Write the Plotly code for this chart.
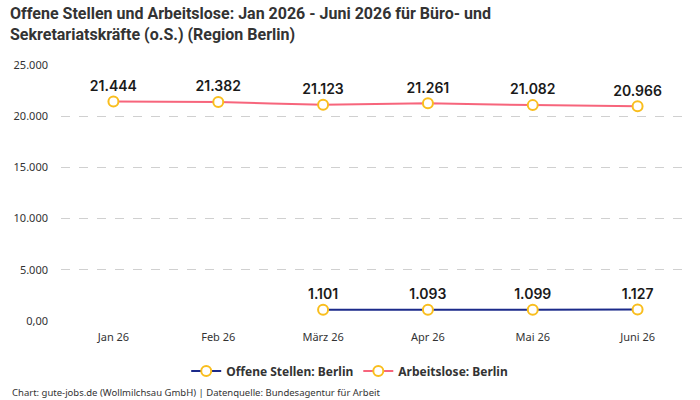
import plotly.graph_objects as go

months = ["Jan 26", "Feb 26", "März 26", "Apr 26", "Mai 26", "Juni 26"]
offene = [None, None, 1101, 1093, 1099, 1127]
arbeitslose = [21444, 21382, 21123, 21261, 21082, 20966]
tick_vals = [0, 5000, 10000, 15000, 20000, 25000]
tick_text = ["0,00", "5.000", "10.000", "15.000", "20.000", "25.000"]

def fmt(v):
    return "" if v is None else f"{v:,}".replace(",", ".")

marker = dict(size=10, color="white", line=dict(color="#F9BE1E", width=2))
label_font = dict(family="Inter", size=14, color="#1a1a1a", weight=600)
fig = go.Figure()
fig.add_trace(go.Scatter(
    x=months, y=offene, name="<b>Offene Stellen: Berlin</b>", mode="lines+markers+text",
    line=dict(color="#1B2A8A", width=2, shape="spline", smoothing=0.4), marker=marker,
    text=[fmt(v) for v in offene], textposition="top center",
    textfont=label_font, connectgaps=False,
))
fig.add_trace(go.Scatter(
    x=months, y=arbeitslose, name="<b>Arbeitslose: Berlin</b>", mode="lines+markers+text",
    line=dict(color="#F7657C", width=2, shape="spline", smoothing=0.4), marker=marker,
    text=[fmt(v) for v in arbeitslose], textposition="top center",
    textfont=label_font,
))
fig.update_layout(
    width=700, height=400,
    margin=dict(l=61, r=10, t=65, b=79),
    paper_bgcolor="white", plot_bgcolor="white",
    font=dict(family="Noto Sans", size=11, color="#333"),
    showlegend=True,
    legend=dict(orientation="h", x=0.459, xanchor="center", y=-0.195, yanchor="middle",
                font=dict(family="Noto Sans", size=12, color="#333")),
    xaxis=dict(range=[-0.5, 5.5], showgrid=False, showline=False, ticks="",
               ticklabelstandoff=8, tickfont=dict(size=11, color="#333")),
    yaxis=dict(range=[0, 25000], tickvals=tick_vals, ticktext=tick_text, showgrid=True,
               gridcolor="#d0d0d0", griddash="dash", gridwidth=1, zeroline=False,
               ticklabelstandoff=12, tickfont=dict(size=11, color="#333")),
)
fig.add_annotation(text="<b>Offene Stellen und Arbeitslose: Jan 2026 - Juni 2026 für Büro- und<br>Sekretariatskräfte (o.S.) (Region Berlin)</b>",
                   xref="paper", yref="paper", x=-0.084, y=1.245, xanchor="left", yanchor="top",
                   align="left", showarrow=False,
                   font=dict(family="Roboto", size=16, color="#333"))
fig.add_annotation(text="Chart: gute-jobs.de (Wollmilchsau GmbH) | Datenquelle: Bundesagentur für Arbeit",
                   xref="paper", yref="paper", x=-0.081, y=-0.281, xanchor="left", yanchor="middle",
                   showarrow=False, font=dict(family="Noto Sans", size=9.5, color="#333"))
fig.write_html("out.html")
